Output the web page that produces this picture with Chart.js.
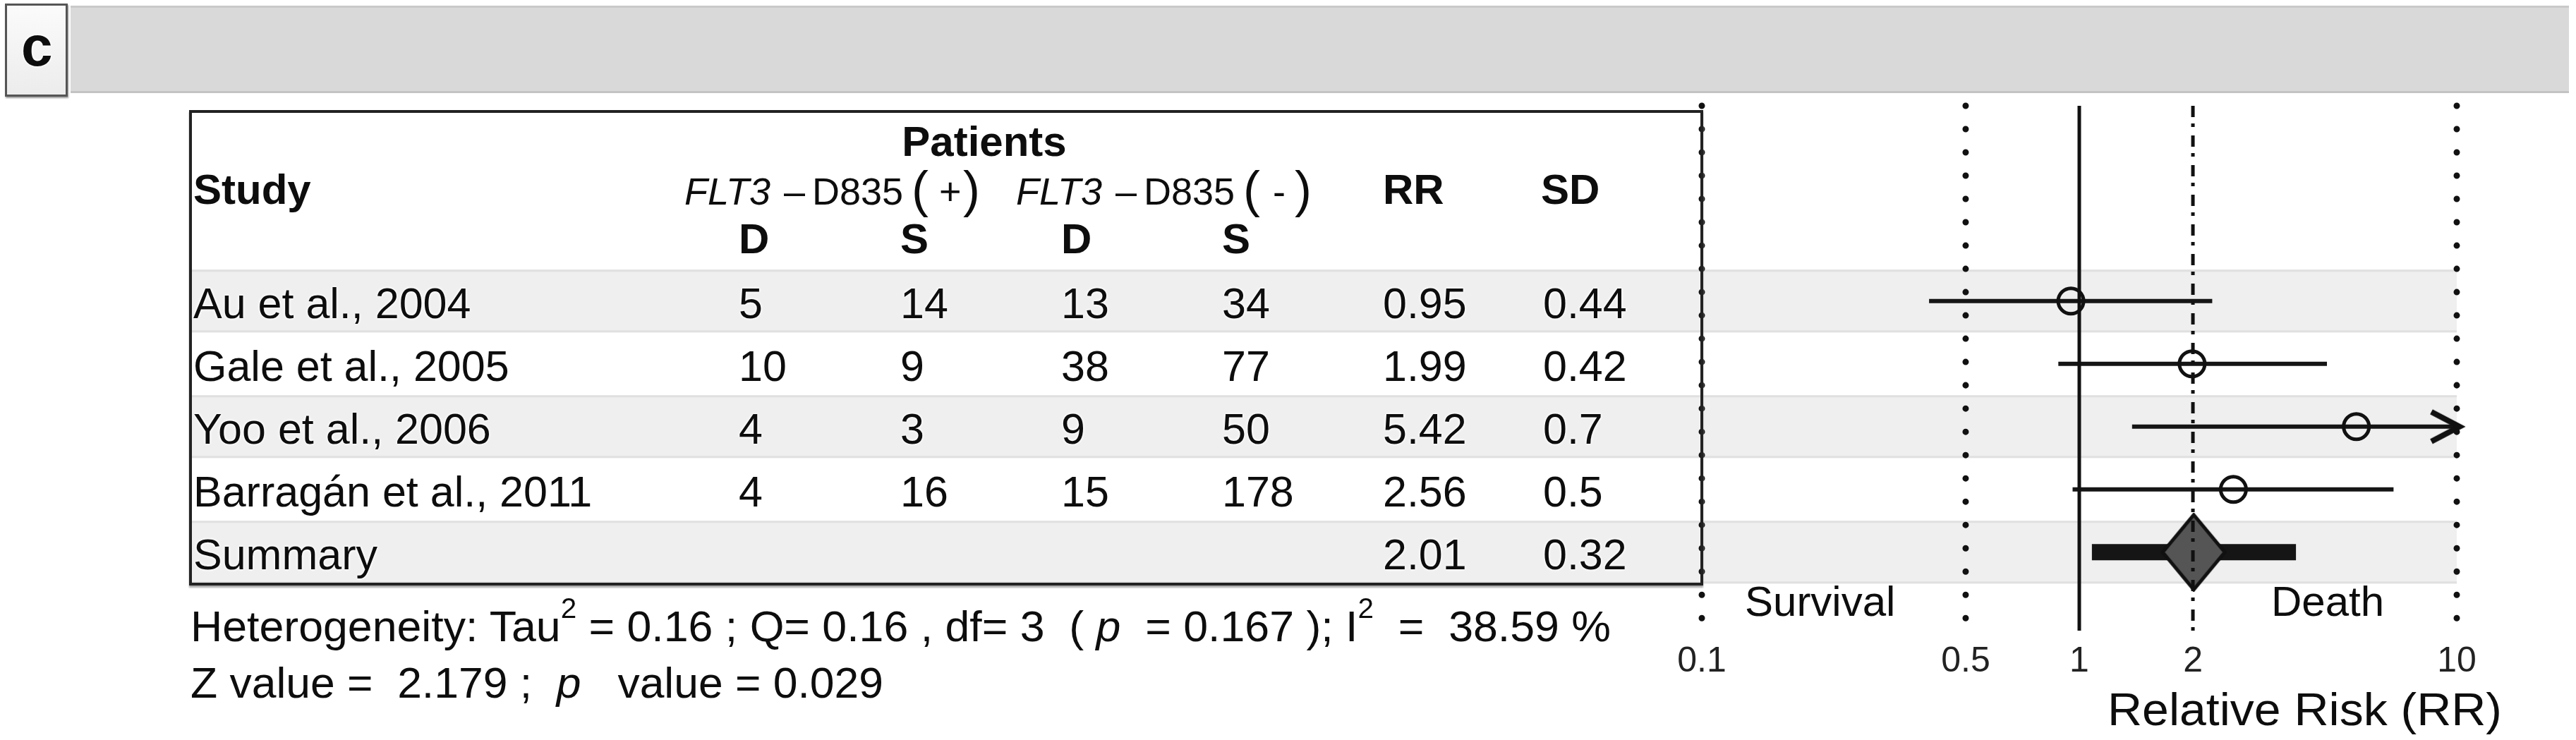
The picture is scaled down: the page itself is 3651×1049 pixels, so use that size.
<!DOCTYPE html>
<html>
<head>
<meta charset="utf-8">
<script src="https://cdn.jsdelivr.net/npm/chart.js@4.4.1/dist/chart.umd.min.js"></script>
<style>
  html,body{margin:0;padding:0;background:#fff;}
  body{width:3651px;height:1049px;position:relative;overflow:hidden;font-family:"Liberation Sans",Arial,sans-serif;color:#0d0d0d;}
  #plot{position:absolute;left:0;top:0;}
  .t{position:absolute;white-space:pre;line-height:1;text-shadow:0 0 5px #fff,0 0 3px #fff;}
  .b{font-weight:bold;}
  .sup{font-size:40px;position:relative;top:-33px;}
  #bar{position:absolute;left:100px;top:8px;width:3541px;height:124px;background:#d9d9d9;border-top:3px solid #c9c9c9;border-bottom:3px solid #c3c3c3;box-sizing:border-box;}
  #tag{position:absolute;left:7px;top:5px;width:89px;height:132px;border:3px solid #555;background:linear-gradient(#fbfbfb,#ececec);box-sizing:border-box;box-shadow:1px 2px 2px #999;}
  #box{position:absolute;left:268px;top:156px;width:2146px;height:674px;border:4px solid #222;box-sizing:border-box;box-shadow:0 3px 2px #aaa;}
</style>
</head>
<body>
<div id="bar"></div><div id="tag"></div>
<canvas id="plot" width="3651" height="1049"></canvas>
<div id="box"></div>
<div id="txt"></div>
<script>
// --- data ---
const studies = ['Au et al., 2004','Gale et al., 2005','Yoo et al., 2006','Barragán et al., 2011','Summary'];
const posDeath = [5,10,4,4];
const posSurv = [14,9,3,16];
const negDeath = [13,38,9,15];
const negSurv = [34,77,50,178];
const rr = [0.95,1.99,5.42,2.56,2.01];
const sd = [0.44,0.42,0.7,0.5,0.32];
const ciLow = [0.40,0.88,1.38,0.96,1.08];
const ciHigh = [2.25,4.53,10,6.80,3.75];
const ciClipped = [false,false,true,false,false];
const refLines = [0.1,0.5,1,2,10];
const tickLabels = ['0.1','0.5','1','2','10'];

// --- text (html overlay) ---
const txt = document.getElementById('txt');
function put(html, x, base, size, cls, align, fitW){
  const el = document.createElement('div');
  el.className = 't ' + (cls||'');
  el.style.fontSize = size + 'px';
  el.style.left = x + 'px';
  el.style.top = (base - 0.8465*size) + 'px';
  el.innerHTML = html;
  txt.appendChild(el);
  if(align==='center') el.style.transform = 'translateX(-50%)';
  if(fitW){
    const w = el.getBoundingClientRect().width;
    el.style.transformOrigin = '0 0';
    el.style.transform = 'scaleX(' + (fitW/w) + ')';
  }
  return el;
}

put('c', 30, 94, 80, 'b');
put('Patients', 1395, 222, 60, 'b', 'center');
put('Study', 274, 290, 60, 'b');
put('RR', 1960, 290, 60, 'b');
put('SD', 2184, 290, 60, 'b');
// FLT3-D835 (+) / (-) headers, plotmath-like pieces
[['+',0],['-',470]].forEach(([sign,dx])=>{
  put('<i>FLT3</i>', 970+dx, 290, 54);
  put('–', 1111+dx, 290, 54);
  put('D835', 1151+dx, 290, 54);
  put('(', 1292+dx, 293, 72);
  put(sign, (sign==='+'?1331:1334)+dx, 290, 54);
  put(')', 1365+dx, 293, 72);
});
const cols = [1047,1276,1504,1732,1960,2187];
['D','S','D','S'].forEach((s,i)=> put(s, cols[i], 360, 60, 'b'));

studies.forEach((name,i)=>{
  const base = 452 + 88.8*i;
  put(name, 274, base, 61);
  if(i < posDeath.length){
    put(String(posDeath[i]), cols[0], base, 61);
    put(String(posSurv[i]), cols[1], base, 61);
    put(String(negDeath[i]), cols[2], base, 61);
    put(String(negSurv[i]), cols[3], base, 61);
  }
  put(rr[i].toFixed(2), cols[4], base, 61);
  put(String(sd[i]), cols[5], base, 61);
});

put('Heterogeneity: Tau<span class="sup">2</span> = 0.16 ; Q= 0.16 , df= 3  ( <i>p</i>  = 0.167 ); I<span class="sup">2</span>  =  38.59 %', 270, 909, 62, '', null, 2013);
put('Z value =  2.179 ;  <i>p</i>   value = 0.029', 270, 989, 62, '', null, 982);
put('Survival', 2473, 874, 60);
put('Death', 3219, 874, 60);
put('Relative Risk (RR)', 2987, 1028, 64, '', null, 559);

// --- point style images ---
function diamondImg(){
  const c = document.createElement('canvas'); c.width = 94; c.height = 112;
  const g = c.getContext('2d');
  g.beginPath(); g.moveTo(47,3); g.lineTo(91,56); g.lineTo(47,109); g.lineTo(3,56); g.closePath();
  g.fillStyle = '#555'; g.fill();
  g.lineWidth = 5; g.strokeStyle = '#111'; g.lineJoin = 'miter'; g.stroke();
  return c;
}
function arrowImg(){
  const c = document.createElement('canvas'); c.width = 100; c.height = 60;
  const g = c.getContext('2d');
  g.beginPath(); g.moveTo(14,9); g.lineTo(54,30); g.lineTo(14,51);
  g.lineWidth = 8; g.strokeStyle = '#111'; g.lineJoin = 'miter'; g.stroke();
  return c;
}

// --- plugins ---
const bandPlugin = {
  id: 'bands',
  beforeDatasetsDraw(chart){
    const {ctx, chartArea, scales:{y}} = chart;
    const left = 270, w = chartArea.right - left;
    ctx.save();
    studies.forEach((s,i)=>{
      if(i % 2) return;
      const t = y.getPixelForValue(i+0.5), b = y.getPixelForValue(i+1.5);
      ctx.fillStyle = '#efefef'; ctx.fillRect(left, t, w, b-t);
      ctx.fillStyle = '#e0e0e0'; ctx.fillRect(left, t, w, 3); ctx.fillRect(left, b-3, w, 3);
    });
    ctx.restore();
  }
};
const refDash = {0.1:'dot', 0.5:'dot', 1:'solid', 2:'dotdash', 10:'dot'};
const refPlugin = {
  id: 'refs',
  afterDatasetsDraw(chart){
    const {ctx, chartArea, scales:{x}} = chart;
    ctx.save();
    refLines.forEach(v=>{
      const px = x.getPixelForValue(v);
      const kind = refDash[v];
      ctx.beginPath();
      ctx.strokeStyle = '#111';
      if(kind==='dot'){ ctx.lineWidth = 9; ctx.lineCap = 'round'; ctx.setLineDash([0.01, 33]); }
      else if(kind==='dotdash'){ ctx.lineWidth = 5; ctx.lineCap = 'butt'; ctx.setLineDash([16, 9, 5, 12]); }
      else { ctx.lineWidth = 5; ctx.lineCap = 'butt'; ctx.setLineDash([]); }
      ctx.moveTo(px, chartArea.top); ctx.lineTo(px, chartArea.bottom);
      ctx.stroke();
    });
    ctx.restore();
  }
};

// --- datasets ---
const ciSets = studies.map((s,i)=>({
  label: s + ' CI',
  data: [{x: ciLow[i], y: i+1}, {x: ciHigh[i], y: i+1}],
  showLine: true,
  borderColor: '#151515',
  borderWidth: i === studies.length-1 ? 23 : 6,
  borderCapStyle: 'butt',
  pointRadius: 0,
  clip: false,
  order: 10 + i
}));
const pointSet = {
  label: 'RR',
  data: rr.slice(0, 4).map((v,i)=>({x: v, y: i+1})),
  pointStyle: 'circle',
  pointRadius: 18,
  pointBorderWidth: 5,
  pointBorderColor: '#111',
  pointBackgroundColor: 'rgba(0,0,0,0)',
  showLine: false,
  clip: false,
  order: 2
};
const diamondSet = {
  label: 'Summary',
  data: [{x: rr[4], y: 5}],
  pointStyle: diamondImg(),
  pointRadius: 40,
  showLine: false,
  clip: false,
  order: 0
};
const arrowSet = {
  label: 'clipped',
  data: ciHigh.map((v,i)=>({x: v, y: i+1})).filter((p,i)=>ciClipped[i]),
  pointStyle: arrowImg(),
  pointRadius: 20,
  showLine: false,
  clip: false,
  order: 1
};

new Chart(document.getElementById('plot'), {
  type: 'scatter',
  data: { datasets: [diamondSet, arrowSet, pointSet, ...ciSets] },
  plugins: [bandPlugin, refPlugin],
  options: {
    responsive: false,
    animation: false,
    devicePixelRatio: 1,
    layout: { padding: { left: 2412, right: 169, top: 150, bottom: 75 } },
    plugins: { legend: { display: false }, tooltip: { enabled: false } },
    scales: {
      x: {
        type: 'logarithmic',
        min: 0.1, max: 10,
        grid: { display: false, drawTicks: false },
        border: { display: false },
        afterBuildTicks: s => { s.ticks = refLines.map(v=>({value: v})); },
        afterFit: s => { s.height = 80; },
        ticks: {
          autoSkip: false, maxRotation: 0, padding: 14,
          color: '#222',
          font: { family: '"Liberation Sans", Arial, sans-serif', size: 50 },
          callback: (v) => tickLabels[refLines.indexOf(v)] ?? ''
        }
      },
      y: { type: 'linear', display: false, reverse: true, min: -2.11, max: 6.25 }
    }
  }
});
</script>
</body>
</html>
